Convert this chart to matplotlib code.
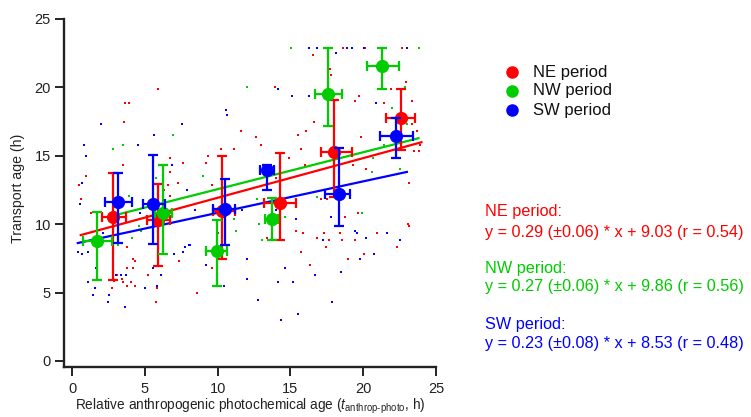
import numpy as np
import matplotlib
matplotlib.use("Agg")
import matplotlib.pyplot as plt
from matplotlib.lines import Line2D

plt.rcParams['font.family'] = ['Liberation Sans', 'DejaVu Sans']
plt.rcParams['mathtext.fontset'] = 'custom'
plt.rcParams['mathtext.rm'] = 'Liberation Sans'
plt.rcParams['mathtext.it'] = 'Liberation Sans:italic'

series = ["NE period", "NW period", "SW period"]
colors = ["#ff0000", "#00cc00", "#0000ff"]

# individual points
ne_x = [5.91, 3.66, 3.94, 3.57, 6.71, 7.65, 3.5, 6.71, 0.98, 7.28, 6.62, 0.45, 6.3,
        16.55, 13.94, 11.61, 12.66, 13.0, 10.21, 11.13, 15.5, 16.07, 15.75, 9.36, 9.18, 14.88, 16.03, 9.62, 13.99,
        18.64, 20.15, 22.64, 17.79, 17.7, 22.96, 21.91, 19.71, 19.41, 21.4, 23.37, 16.64, 23.35, 23.67, 23.9, 19.85,
        23.47, 23.86, 19.28, 20.17, 23.12,
        0.59, 1.33, 6.73, 3.76, 7.33, 4.21, 4.3, 3.76, 4.19, 3.1, 5.22, 2.88, 3.41, 3.52, 4.03, 3.8, 4.33, 2.72, 5.86, 5.75,
        15.41, 15.89, 10.03, 13.37, 15.75, 9.62, 16.32, 8.61,
        17.12, 17.49, 18.75, 19.67, 23.05, 23.12, 17.33, 18.41, 20.95, 16.8, 17.65, 18.57, 19.41, 17.42, 22.32, 20.03, 18.93]
ne_y = [19.86, 18.86, 18.86, 17.5, 14.86, 14.5, 14.35, 13.84, 13.5, 12.99, 12.87, 12.87, 12.5,
        22.37, 20.03, 16.84, 16.35, 15.81, 15.52, 15.52, 16.52, 16.84, 15.52, 15.0, 14.5, 14.86, 14.35, 12.87, 13.36,
        22.86, 22.86, 22.86, 20.88, 21.32, 20.39, 19.86, 19.37, 19.03, 18.86, 19.03, 17.49, 17.32, 16.84, 15.81, 16.35,
        15.35, 15.35, 14.35, 14.01, 12.99,
        11.87, 10.8, 12.04, 8.33, 7.31, 7.48, 7.31, 6.8, 6.8, 6.31, 6.31, 5.85, 5.97, 5.77, 5.77, 5.46, 5.46, 5.34, 5.34, 4.34,
        9.5, 9.33, 9.33, 9.02, 7.97, 6.82, 7.04, 4.99,
        11.84, 11.84, 10.5, 10.82, 9.99, 9.85, 9.33, 9.33, 9.33, 8.99, 8.82, 8.82, 8.82, 8.33, 8.33, 7.82, 7.48]

nw_x = [6.94, 2.84, 3.53, 5.75, 15.02, 12.04, 8.97, 23.86, 22.87, 21.98, 23.03, 21.45, 20.65, 20.6, 22.5,
        3.91, 4.6, 4.76, 4.14, 3.18, 12.71, 14.6, 11.15, 12.84, 11.28, 13.03, 16.85, 19.9]
nw_y = [16.52, 15.52, 15.81, 13.36, 22.86, 20.03, 13.5, 22.86, 20.0, 18.49, 17.32, 15.81, 14.86, 13.84, 14.01,
        12.04, 9.85, 9.48, 9.01, 8.5, 11.84, 10.53, 10.36, 10.01, 9.5, 8.85, 12.01, 10.82]

sw_x = [1.99, 7.55, 5.61, 0.80, 4.56, 0.98, 6.85, 0.66, 7.9,
        16.3, 14.13, 15.09, 16.3, 10.6, 10.67,
        16.8, 18.9, 19.25, 20.05, 23.03, 18.13, 20.9,
        0.53, 4.67, 2.13, 0.41, 0.71, 1.12, 6.98, 7.62, 7.76, 8.06, 1.65, 5.56, 3.0, 3.34, 3.73, 6.13, 1.1, 4.99, 1.58,
        5.84, 1.46, 2.52, 2.47, 3.64,
        8.47, 11.7, 14.03, 15.36, 8.1, 12.0, 9.23, 14.65, 12.04, 14.13, 15.18, 10.46, 12.8, 15.5, 14.38,
        17.79, 19.46, 19.55, 21.66, 20.21, 17.24, 22.5, 20.74, 19.8, 16.71, 18.45, 17.84]
sw_y = [17.32, 17.32, 16.52, 15.81, 15.81, 15.0, 14.35, 12.99, 12.5,
        22.86, 19.86, 19.37, 19.37, 18.37, 17.98,
        22.86, 22.86, 22.86, 22.86, 22.86, 22.51, 18.86,
        11.5, 10.8, 9.33, 7.97, 7.82, 7.97, 7.82, 7.97, 8.33, 8.5, 6.8, 6.8, 6.31, 6.31, 6.31, 6.31, 5.77, 5.34, 5.34,
        5.46, 4.85, 4.85, 4.34, 3.97,
        11.01, 11.01, 11.01, 10.36, 8.5, 7.48, 7.04, 6.82, 5.99, 5.8, 5.8, 5.48, 4.48, 3.46, 2.97,
        10.5, 9.5, 9.33, 9.33, 8.99, 8.82, 8.82, 7.82, 7.48, 6.31, 6.51, 4.34]

# binned means with ranges
ne_bx = [2.82, 5.93, 10.33, 14.26, 18.02, 22.57]
ne_by = [10.53, 10.28, 11.0, 11.55, 15.3, 17.76]
ne_xlo = [2.04, 5.17, 9.68, 13.19, 17.12, 21.57]
ne_xhi = [3.73, 6.73, 11.22, 15.41, 19.25, 23.56]
ne_ylo = [5.94, 6.94, 7.48, 8.82, 12.0, 15.45]
ne_yhi = [13.74, 12.96, 15.0, 15.18, 19.08, 19.88]

nw_bx = [1.74, 6.25, 9.94, 13.76, 17.58, 21.32]
nw_by = [8.77, 10.84, 8.06, 10.36, 19.54, 21.54]
nw_xlo = [0.78, 5.7, 9.23, 13.28, 16.67, 20.28]
nw_xhi = [2.72, 6.9, 10.65, 14.15, 18.54, 22.48]
nw_ylo = [5.9, 7.82, 5.48, 8.82, 17.15, 19.88]
nw_yhi = [10.89, 14.35, 10.33, 11.9, 22.86, 22.86]

sw_bx = [3.18, 5.54, 10.49, 13.42, 18.36, 22.25]
sw_by = [11.62, 11.45, 11.09, 13.99, 12.23, 16.47]
sw_xlo = [2.24, 4.88, 9.68, 12.9, 17.4, 21.18]
sw_xhi = [4.14, 6.36, 11.22, 13.87, 19.11, 23.4]
sw_ylo = [8.65, 8.53, 8.5, 12.52, 9.85, 14.86]
sw_yhi = [13.72, 15.06, 13.28, 14.3, 15.6, 17.76]

# fits
slopes = [0.29, 0.27, 0.23]
slope_err = [0.06, 0.06, 0.08]
intercepts = [9.03, 9.86, 8.53]
r_values = [0.54, 0.56, 0.48]
fit_range = [(0.6, 24.0), (3.1, 23.8), (0.4, 23.0)]

fig = plt.figure(figsize=(7.51, 4.17), dpi=100)
ax = fig.add_axes([64/751, 1-367/417, (436-64)/751, (367-19)/417])

dots = [(ne_x, ne_y), (nw_x, nw_y), (sw_x, sw_y)]
for (dx, dy), c in zip(dots, colors):
    ax.plot(dx, dy, linestyle='none', marker='s', markersize=1.6, color=c,
            markeredgewidth=0, zorder=1, clip_on=False)

for i, c in enumerate(colors):
    xs = np.array(fit_range[i])
    ax.plot(xs, slopes[i]*xs + intercepts[i], color=c, lw=1.6, zorder=2)

bins = {
    1: (nw_bx, nw_by, nw_xlo, nw_xhi, nw_ylo, nw_yhi),
    0: (ne_bx, ne_by, ne_xlo, ne_xhi, ne_ylo, ne_yhi),
    2: (sw_bx, sw_by, sw_xlo, sw_xhi, sw_ylo, sw_yhi),
}
for k in [1, 0, 2]:
    bx, by, xlo, xhi, ylo, yhi = [np.array(v) for v in bins[k]]
    ax.errorbar(bx, by, xerr=[bx-xlo, xhi-bx], yerr=[by-ylo, yhi-by],
                fmt='o', color=colors[k], markersize=8.5, elinewidth=1.6,
                capsize=3.3, capthick=1.6, zorder=3+k, clip_on=False)

ax.set_xlim(-0.55, 25)
ax.set_ylim(-0.44, 25)
ax.set_xticks([0, 5, 10, 15, 20, 25])
ax.set_yticks([0, 5, 10, 15, 20, 25])
for s in ['top', 'right']:
    ax.spines[s].set_visible(False)
for s in ['left', 'bottom']:
    ax.spines[s].set_linewidth(1.7)
    ax.spines[s].set_color('#222222')
ax.tick_params(direction='out', length=6.5, width=1.4, colors='#222222', labelsize=10.5)
ax.tick_params(axis='x', pad=4.5)
ax.tick_params(axis='y', pad=3)
ax.set_ylabel("Transport age (h)", fontsize=10.2, color='#222222', labelpad=7)
ax.yaxis.label.set_y(0.513)
ax.set_xlabel(r"Relative anthropogenic photochemical age ($\it{t}_{\rm{anthrop\text{-}photo}}$, h)",
              fontsize=9.8, color='#222222', labelpad=0)

# legend
leg_y = [72.3, 91.0, 110.0]
for name, c, yy in zip(series, colors, leg_y):
    fig.add_artist(Line2D([512/751], [1-yy/417], marker='o', markersize=8, color=c,
                          linestyle='none', transform=fig.transFigure))
    fig.text(533/751, 1-yy/417, name, fontsize=12, va='center', ha='left', color='#111111')

title_y = [211.7, 268.3, 325.0]
eq_y = [232.7, 286.7, 343.3]
for i, c in enumerate(colors):
    fig.text(485/751, 1-title_y[i]/417, series[i] + ":", fontsize=11.7, color=c, va='center', ha='left')
    eq = "y = %.2f (\u00b1%.2f) * x + %.2f (r = %.2f)" % (slopes[i], slope_err[i], intercepts[i], r_values[i])
    fig.text(485/751, 1-eq_y[i]/417, eq, fontsize=11.7, color=c, va='center', ha='left')

fig.savefig("out.png", dpi=100)
